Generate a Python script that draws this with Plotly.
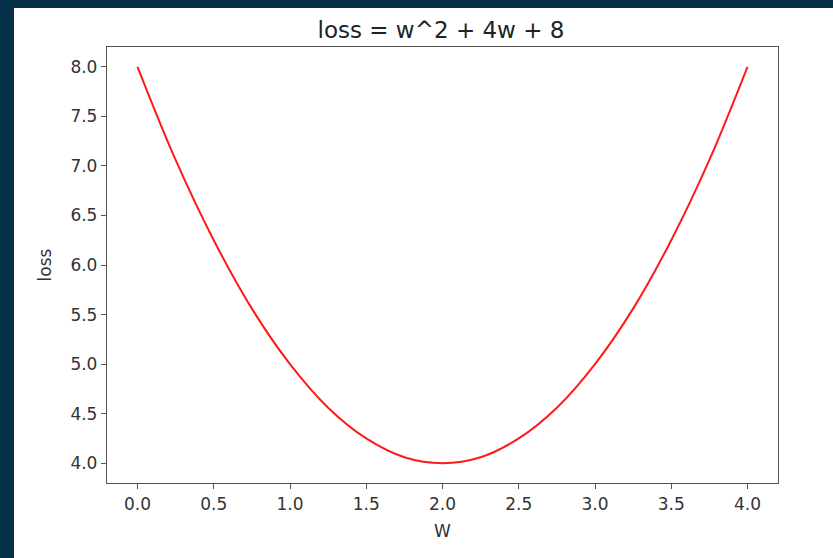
import plotly.graph_objects as go

w_values = [0.0, 0.25, 0.5, 0.75, 1.0, 1.25, 1.5, 1.75, 2.0, 2.25, 2.5, 2.75, 3.0, 3.25, 3.5, 3.75, 4.0]
loss_values = [8.0, 7.06, 6.25, 5.56, 5.0, 4.56, 4.25, 4.06, 4.0, 4.06, 4.25, 4.56, 5.0, 5.56, 6.25, 7.06, 8.0]
x_ticks = [0.0, 0.5, 1.0, 1.5, 2.0, 2.5, 3.0, 3.5, 4.0]
x_tick_labels = ["0.0", "0.5", "1.0", "1.5", "2.0", "2.5", "3.0", "3.5", "4.0"]
y_ticks = [4.0, 4.5, 5.0, 5.5, 6.0, 6.5, 7.0, 7.5, 8.0]
y_tick_labels = ["4.0", "4.5", "5.0", "5.5", "6.0", "6.5", "7.0", "7.5", "8.0"]

W, H = 833, 558
L, R, T, B = 107, 55, 47, 75
pw, ph = W - L - R, H - T - B
DARK = "#063249"

def px_to_paper_x(px):
    return (px - L) / pw

def px_to_paper_y(py):
    return (H - B - py) / ph

fig = go.Figure()
fig.add_trace(go.Scatter(x=w_values, y=loss_values, mode="lines",
                         line=dict(color="#ff1a1a", width=2, shape="spline"),
                         showlegend=False, hoverinfo="skip"))

font_family = "DejaVu Sans, sans-serif"
axis_common = dict(showgrid=False, zeroline=False, showline=True, linecolor="#555555",
                   linewidth=1.3, mirror=True, ticks="outside", ticklen=5, tickwidth=1,
                   tickcolor="#555555", tickfont=dict(family=font_family, size=17, color="#333333"))

fig.update_layout(
    width=W, height=H,
    margin=dict(l=L, r=R, t=T, b=B),
    paper_bgcolor=DARK,
    plot_bgcolor="white",
    title=dict(text="loss = w^2 + 4w + 8", x=px_to_paper_x(441), xref="paper", xanchor="center",
               y=1 - 30 / H, yanchor="middle",
               font=dict(family=font_family, size=23, color="#222222")),
    xaxis=dict(range=[-0.2, 4.2], tickvals=x_ticks, ticktext=x_tick_labels,
               title=dict(text="W", font=dict(family=font_family, size=17, color="#333333"), standoff=12),
               **axis_common),
    yaxis=dict(range=[3.8, 8.2], tickvals=y_ticks, ticktext=y_tick_labels,
               title=dict(text="loss", font=dict(family=font_family, size=17, color="#333333"), standoff=14),
               **axis_common),
    shapes=[dict(type="rect", xref="paper", yref="paper", layer="below",
                 x0=px_to_paper_x(14), x1=px_to_paper_x(W + 5),
                 y0=px_to_paper_y(H + 5), y1=px_to_paper_y(8),
                 fillcolor="white", line=dict(width=0))],
)

fig.write_html("out.html", config={"displayModeBar": False},
               post_script="document.body.style.margin='0';document.body.style.background='%s';" % DARK)
